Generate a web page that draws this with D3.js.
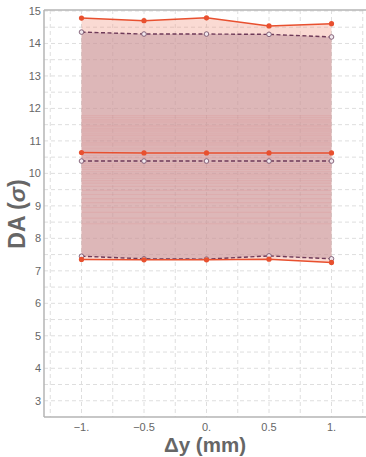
<!DOCTYPE html>
<html>
<head>
<meta charset="utf-8">
<script src="https://cdn.jsdelivr.net/npm/d3@7"></script>
<style>
  html, body { margin: 0; padding: 0; background: #fff; }
  svg { display: block; font-family: "Liberation Sans", Arial, sans-serif; }
</style>
</head>
<body>
<svg id="chart" width="366" height="457"></svg>
<script>
// Displacement steps (mm)
const dy = [-1, -0.5, 0, 0.5, 1];

// Red solid series: upper envelope, mean, lower envelope
const redUpper = [14.78, 14.70, 14.79, 14.54, 14.61];
const redMid   = [10.64, 10.63, 10.63, 10.63, 10.63];
const redLower = [7.35, 7.34, 7.34, 7.36, 7.26];

// Dashed series: upper envelope, mean, lower envelope
const dashUpper = [14.35, 14.29, 14.29, 14.28, 14.20];
const dashMid   = [10.38, 10.38, 10.38, 10.38, 10.38];
const dashLower = [7.45, 7.37, 7.36, 7.46, 7.37];

// Individual sample levels drawn as faint lines
const sampleLevels = [
  11.78, 11.72, 11.66, 11.62, 11.58, 11.52, 11.47, 11.43, 11.38, 11.33,
  11.28, 11.22, 11.17, 11.12, 11.06, 11.0, 10.95, 10.9, 10.85, 10.78,
  10.72, 10.55, 10.48, 10.3, 10.24, 10.18, 10.12, 10.05, 9.98, 9.92,
  9.85, 9.78, 9.7, 9.6, 9.48, 9.35, 9.22, 9.1, 8.95, 8.8, 8.62, 8.45
];

const yTicks = d3.range(3, 16, 1);
const xTicks = [-1, -0.5, 0, 0.5, 1];
const xTickLabels = ["\u22121.", "\u22120.5", "0.", "0.5", "1."];

const svg = d3.select("#chart");
const L = 44, R = 366, T = 10, B = 417;

const x = d3.scaleLinear().domain([-1.3, 1.276]).range([L, R]);
const y = d3.scaleLinear().domain([2.5, 15.03]).range([B, T]);

// Grid
const grid = svg.append("g");
grid.selectAll("line.gy").data(d3.range(3, 15.01, 0.5)).join("line")
  .attr("x1", L).attr("x2", R)
  .attr("y1", d => y(d)).attr("y2", d => y(d))
  .attr("stroke", "#dedede").attr("stroke-width", 1)
  .attr("stroke-dasharray", "4,3");
grid.selectAll("line.gx").data(d3.range(-1.25, 1.2501, 0.25)).join("line")
  .attr("y1", T).attr("y2", B)
  .attr("x1", d => x(d)).attr("x2", d => x(d))
  .attr("stroke", "#dedede").attr("stroke-width", 1)
  .attr("stroke-dasharray", "4,3");

// Bands
const idx = d3.range(dy.length);
const band = (lo, hi) => d3.area()
  .x(i => x(dy[i])).y0(i => y(lo[i])).y1(i => y(hi[i]));

svg.append("path").datum(idx)
  .attr("d", band(redLower, redUpper))
  .attr("fill", "rgb(240,150,130)").attr("fill-opacity", 0.35);
svg.append("path").datum(idx)
  .attr("d", band(dashLower, dashUpper))
  .attr("fill", "rgb(192,148,157)").attr("fill-opacity", 0.5);

// Sample lines
svg.append("g").selectAll("line").data(sampleLevels).join("line")
  .attr("x1", x(-1)).attr("x2", x(1))
  .attr("y1", d => y(d)).attr("y2", d => y(d))
  .attr("stroke", "rgb(225,110,110)").attr("stroke-opacity", 0.13)
  .attr("stroke-width", 1.2);

const line = vals => d3.line().x(i => x(dy[i])).y(i => y(vals[i]))(idx);

const redColor = "#e8502f";
const dashColor = "#6e3a58";

// Dashed series
[dashUpper, dashMid, dashLower].forEach(vals => {
  svg.append("path").attr("d", line(vals))
    .attr("fill", "none").attr("stroke", dashColor)
    .attr("stroke-width", 1.4).attr("stroke-dasharray", "4,2.5");
  svg.append("g").selectAll("circle").data(idx).join("circle")
    .attr("cx", i => x(dy[i])).attr("cy", i => y(vals[i])).attr("r", 2.3)
    .attr("fill", "#f2e8ee").attr("stroke", "#7a5870").attr("stroke-width", 0.9);
});

// Red series
[redUpper, redMid, redLower].forEach(vals => {
  svg.append("path").attr("d", line(vals))
    .attr("fill", "none").attr("stroke", redColor).attr("stroke-width", 1.5);
  svg.append("g").selectAll("circle").data(idx).join("circle")
    .attr("cx", i => x(dy[i])).attr("cy", i => y(vals[i])).attr("r", 2.6)
    .attr("fill", redColor);
});

// Frame / axes
const axisColor = "#b4b4b4";
svg.append("line").attr("x1", L).attr("x2", L).attr("y1", T).attr("y2", B)
  .attr("stroke", axisColor).attr("stroke-width", 1.5);
svg.append("line").attr("x1", L).attr("x2", R).attr("y1", B).attr("y2", B)
  .attr("stroke", axisColor).attr("stroke-width", 1.5);
svg.append("line").attr("x1", L).attr("x2", R).attr("y1", T).attr("y2", T)
  .attr("stroke", axisColor).attr("stroke-width", 1.5);

// Tick labels
svg.append("g").selectAll("text").data(yTicks).join("text")
  .attr("x", L - 3).attr("y", d => y(d) + 4)
  .attr("text-anchor", "end").attr("font-size", 11).attr("fill", "#666")
  .text(d => d);
svg.append("g").selectAll("text").data(xTicks).join("text")
  .attr("x", d => x(d)).attr("y", 431)
  .attr("text-anchor", "middle").attr("font-size", 11).attr("fill", "#666")
  .text((d, i) => xTickLabels[i]);

// Axis titles
svg.append("text")
  .attr("x", 205).attr("y", 452)
  .attr("text-anchor", "middle").attr("font-size", 20.5).attr("font-weight", "bold")
  .attr("fill", "#666").text("\u0394y (mm)");
const yTitle = svg.append("text")
  .attr("transform", "translate(25,214) rotate(-90)")
  .attr("text-anchor", "middle").attr("font-size", 23).attr("font-weight", "bold")
  .attr("fill", "#666");
yTitle.append("tspan").text("DA (");
yTitle.append("tspan").attr("font-style", "italic").text("\u03C3");
yTitle.append("tspan").text(")");
</script>
</body>
</html>
